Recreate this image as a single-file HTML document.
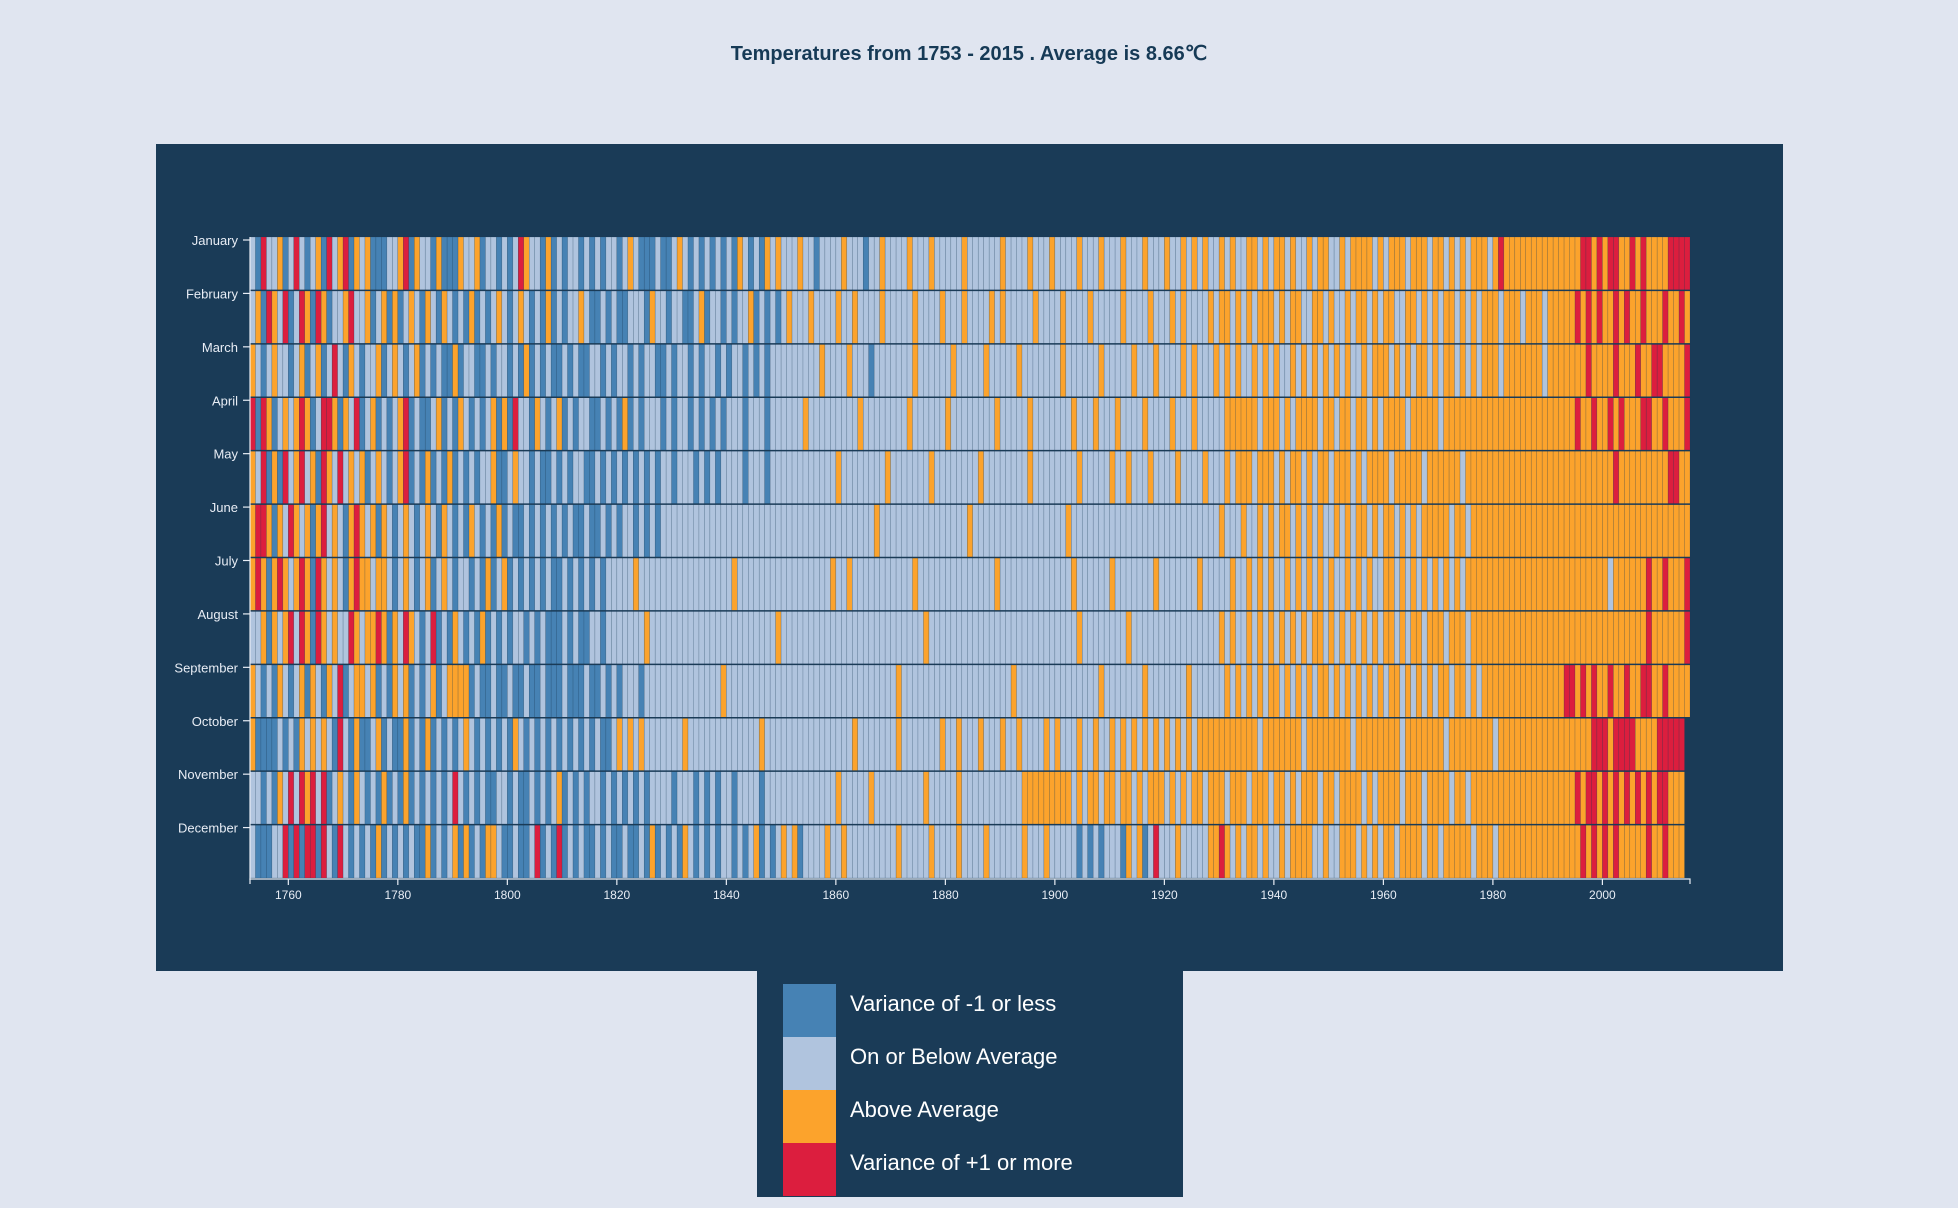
<!DOCTYPE html>
<html><head><meta charset="utf-8">
<style>
html,body{margin:0;padding:0;background:#e0e5f0;width:1958px;height:1208px;overflow:hidden;font-family:"Liberation Sans",sans-serif;}
#title{position:absolute;left:0;width:1938px;top:41px;text-align:center;font-weight:bold;font-size:20px;color:#163a56;}
#panel{position:absolute;left:156px;top:144px;width:1627px;height:827px;background:#1a3b57;}
#legend{position:absolute;left:757px;top:970px;width:426px;height:227px;background:#1a3b57;}
.lg{position:absolute;left:26px;width:53px;height:53px;}
.lt{position:absolute;left:93px;color:#fff;font-size:22px;line-height:53px;margin-top:-7px;}
svg{position:absolute;left:0;top:0;}
</style></head><body>
<div id="title">Temperatures from 1753 - 2015 . Average is 8.66℃</div>
<div id="panel"></div>
<div id="legend">
<div class="lg" style="top:14px;background:#4682b4"></div><div class="lt" style="top:14px">Variance of -1 or less</div>
<div class="lg" style="top:67px;background:#b0c4de"></div><div class="lt" style="top:67px">On or Below Average</div>
<div class="lg" style="top:120px;background:#fca32c"></div><div class="lt" style="top:120px">Above Average</div>
<div class="lg" style="top:173px;background:#dc1e3e"></div><div class="lt" style="top:173px">Variance of +1 or more</div>
</div>
<svg id="chart" width="1958" height="1208"></svg>
<script>
const startYear = 1753;
const months = ["January","February","March","April","May","June","July","August","September","October","November","December"];
const yearTicks = [1760,1780,1800,1820,1840,1860,1880,1900,1920,1940,1960,1980,2000];
const categories = ["Variance of -1 or less","On or Below Average","Above Average","Variance of +1 or more"];
// category codes per month, one char per year from 1753
const janData = "1031120131 0120312302 1200011230 2110200021 1201101013 2110201011 0101011012 1000100121 0101010102 1010212 1112110111 1211101121 1112111211 1112111111 2111121112 1111211121 1121112111 2112121211 2121122121 2212112122 1121222212 1222122212 2121212221 2322222222 2222223323 2332232322 223333";
const febData = "1203213013 2032011231 1201202012 1021021010 2010121012 1010201011 2100101001 1102110110 0120110101 1201010 1211121111 2112111121 1111211112 1112111121 2111112111 1211112111 1121111211 1212111121 2212121222 1212211221 2112122121 2211221212 1221212122 2122212221 2222232323 2232322322 232232";
const marData = "2101211012 0120131021 0112012101 2010100201 1001011010 2010100101 0011010110 1011001011 0101101011 0101011 1111111211 1121110111 1111211111 1211111211 1112111111 1211111121 1111211121 1112121112 1212112121 2112121212 1212112122 2121212212 1221212122 2122222221 2222222322 2232223223 322223";
const aprData = "3032012123 2013320213 0120101230 1001201021 0101202031 1021012010 1100101020 1011101011 0101010111 0111011 1111211111 1111211111 1112111111 2111111112 1111121111 1112111211 1211112111 1211121111 1222222122 2121222212 2122122121 2222122222 1222222222 2222222222 2222232232 2323222332 232223";
const mayData = "2130203123 1203213121 2012101230 1020102010 1011200121 1010010101 1001010101 0101011011 1010101111 0111011 1111111111 2111111112 1111111211 1111112111 1111121111 1111211111 2112111211 1121111211 1212221222 1212212122 1222121222 2122222122 2222122222 2222222222 2222222222 2232222222 223322";
const junData = "2332021321 2023121023 2120210121 0121021010 2101020100 1010101010 0100101011 0101011111 1111111111 1111111 1111111111 1111111211 1111111111 1111211111 1111111111 1121111111 1111111111 1111111111 2111211212 1221212121 1212122121 2212121222 2212212222 2222222222 2222222222 2222222222 222222";
const julData = "2320232123 2032121023 2212210121 0120121011 0102012010 1010100101 0101011111 2111111111 1111111121 1111111 1111111112 1121111111 1111211111 1111111112 1111111111 1112111111 2111111121 1111112111 1121121212 1121212121 2112121211 2212121212 1212122222 2222222222 2222222222 2122222232 232223";
const augData = "1120212313 2032121132 1223202132 1013010210 1020101011 0101000101 0011011111 1121111111 1111111111 1111112 1111111111 1111111111 1111112111 1111111111 1111111111 1111211111 1112111111 1111111111 2121121212 1212121221 2121212121 2212122122 2122212222 2222222222 2222222222 2222222232 222223";
const sepData = "2101021012 0210213012 2120102120 1012012222 0100100100 1001000100 0100101011 1011111111 1111112111 1111111 1111111111 1111111111 1211111111 1111111111 1121111111 1111111121 1111112111 1111211111 1212121212 2121212122 1212121212 1221212121 2212212122 2222222222 2223323232 2322322332 232222";
const octData = "2000010102 1212103102 0012010020 1020101012 1010101021 0101010101 0101001212 1211111112 1111111111 1112111 1111111111 1112111111 1211111112 1121112111 2112111121 2111211211 2121212121 2121212222 2222222122 2222212222 2222122222 2221222222 2122222222 1222222222 2222222233 3233332222 33333";
const novData = "1101021313 2313012102 1010201020 1010101310 1010011010 0101012010 1011010101 0101111011 1010101101 1110111 1111111111 2111112111 1111112111 1121111111 1111222222 2221212212 2122121222 1212122122 2122212221 2212122212 2122221212 2221222122 2212212222 2222222222 2222232332 3232323232 33222";
const decData = "1000113030 3303103101 0102010101 0020101202 0102210010 0130103010 1001010010 0102010102 1010101101 0120101 2120111121 1211111111 1211111211 1121111211 1111211121 1111010101 1102120131 1121111122 3212122121 1212222112 1122212121 2212222122 1222221222 1222222222 2222223232 3232222232 23222";
const monthData = [janData,febData,marData,aprData,mayData,junData,julData,augData,sepData,octData,novData,decData];

const colors = ["#4682b4","#b0c4de","#fca32c","#dc1e3e"];
const X0=250, X1=1690, Y0=237, Y1=878, NY=263;
const x = y => X0 + (y - startYear) * (X1 - X0) / NY;
const rowH = (Y1 - Y0) / 12;
const yS = m => Y0 + m * rowH;
const NS = "http://www.w3.org/2000/svg";
const svg = document.getElementById('chart');
function mk(t, a){const e=document.createElementNS(NS,t);for(const k in a)e.setAttribute(k,a[k]);svg.appendChild(e);return e;}

monthData.forEach((str, m) => {
  const s = str.replace(/ /g,'');
  for (let i = 0; i < s.length; i++) {
    const yr = startYear + i;
    const r = mk('rect',{x:x(yr),y:yS(m),width:x(yr+1)-x(yr),height:rowH,fill:colors[+s[i]],stroke:'rgba(26,59,87,0.35)','stroke-width':0.5});
    
    
  }
  if (m > 0) {
    const l = mk('line',{x1:X0,x2:X1,y1:yS(m),y2:yS(m),stroke:'#1a3b57','stroke-width':1.5});
    
    
  }
  const t = mk('line',{x1:X0-7,x2:X0,y1:yS(m)+3,y2:yS(m)+3,stroke:'#e8edf5','stroke-width':1.2});
  
  
  const lb = mk('text',{x:X0-12,y:yS(m)+8,'text-anchor':'end','font-size':13,fill:'#e8edf5','font-family':'Liberation Sans, sans-serif'});
  lb.textContent = months[m];
  
  
});
const ya = mk('line',{x1:X0,x2:X0,y1:Y0,y2:Y1+2,stroke:'#e8edf5','stroke-width':1.2});


const xa = mk('path',{d:`M${X0},${Y1+6}V${Y1+1}H${X1}V${Y1+6}`,fill:'none',stroke:'#e8edf5','stroke-width':1.2});


yearTicks.forEach(yr => {
  const tx = x(yr);
  const t = mk('line',{x1:tx,x2:tx,y1:Y1+1,y2:Y1+7,stroke:'#e8edf5','stroke-width':1.2});
  
  
  const lb = mk('text',{x:tx,y:Y1+21,'text-anchor':'middle','font-size':12,fill:'#e8edf5','font-family':'Liberation Sans, sans-serif'});
  lb.textContent = yr;
  
  
});
</script>
</body></html>
